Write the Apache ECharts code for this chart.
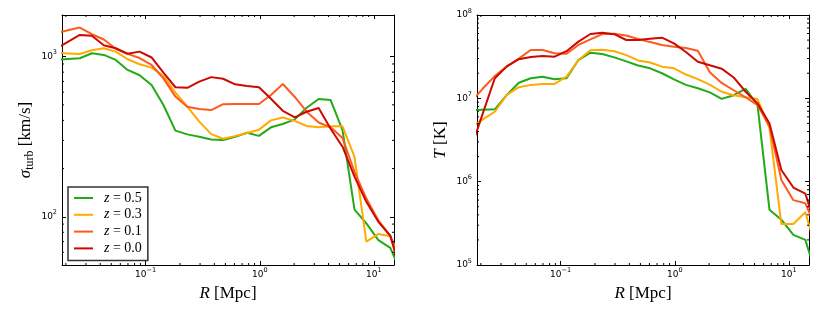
<!DOCTYPE html>
<html>
<head>
<meta charset="utf-8">
<script src="https://cdn.jsdelivr.net/npm/echarts@6/dist/echarts.min.js"></script>
<style>
html,body{margin:0;padding:0;background:#fff;}
#c{width:830px;height:312px;}
</style>
</head>
<body>
<div id="c"></div>
<script>
// Radial bins R [Mpc]
const R = [0.0164, 0.0208, 0.0265, 0.0338, 0.0430, 0.0547, 0.0695, 0.0885, 0.1127, 0.1432,
           0.1824, 0.2317, 0.2951, 0.3758, 0.4775, 0.6081, 0.7727, 0.984, 1.253, 1.592,
           2.028, 2.576, 3.281, 4.178, 5.309, 6.761, 8.59, 10.94, 13.93, 17.70];

// sigma_turb [km/s]
const sig_z05 = [955, 968, 977, 1050, 1025, 954, 826, 765, 666, 499, 345, 327, 316, 304, 302, 316, 335, 320, 362, 380, 406, 480, 544, 536, 348, 111, 91, 71.5, 64, 43];
const sig_z03 = [1055, 1048, 1040, 1096, 1128, 1075, 963, 896, 854, 758, 596, 487, 393, 328, 307, 319, 334, 350, 400, 417, 397, 369, 362, 367, 367, 237, 70, 78, 75.5, 52];
const sig_z01 = [1403, 1460, 1519, 1380, 1280, 1120, 1040, 980, 887, 732, 563, 487, 471, 464, 505, 506, 506, 506, 576, 675, 560, 453, 388, 362, 310, 191, 130, 95, 76, 48];
const sig_z00 = [1121, 1238, 1367, 1350, 1178, 1128, 1043, 1075, 988, 796, 644, 639, 698, 745, 728, 672, 656, 644, 546, 459, 418, 453, 478, 355, 274, 178, 124, 93, 76, 42];

// Temperature T [K]
const T_z05 = [7.2e6, 7.3e6, 7.38e6, 1.10e7, 1.54e7, 1.74e7, 1.82e7, 1.69e7, 1.74e7, 2.88e7, 3.53e7, 3.40e7, 3.10e7, 2.78e7, 2.48e7, 2.29e7, 2.0e7, 1.69e7, 1.45e7, 1.32e7, 1.18e7, 9.85e6, 1.09e7, 1.30e7, 8.3e6, 4.6e5, 3.5e5, 2.3e5, 2.0e5, 7e4];
const T_z03 = [4.46e6, 5.6e6, 6.9e6, 1.10e7, 1.36e7, 1.45e7, 1.49e7, 1.49e7, 1.82e7, 2.88e7, 3.77e7, 3.84e7, 3.68e7, 3.3e7, 2.85e7, 2.69e7, 2.40e7, 2.29e7, 1.93e7, 1.7e7, 1.46e7, 1.2e7, 1.09e7, 1.03e7, 9.8e6, 4.4e6, 3.1e5, 3.1e5, 4.3e5, 1.4e5];
const T_z01 = [9.1e6, 1.31e7, 1.85e7, 2.42e7, 3.0e7, 3.80e7, 3.80e7, 3.47e7, 3.43e7, 4.37e7, 5.1e7, 5.9e7, 5.95e7, 5.68e7, 5.15e7, 4.73e7, 4.37e7, 4.17e7, 4.02e7, 3.73e7, 2.06e7, 1.53e7, 1.25e7, 1.03e7, 8.3e6, 4.6e6, 1.05e6, 6.0e5, 5.5e5, 2.6e5];
const T_z00 = [2.5e6, 6.6e6, 1.74e7, 2.42e7, 2.95e7, 3.13e7, 3.23e7, 3.16e7, 3.68e7, 4.79e7, 5.92e7, 6.14e7, 5.89e7, 5.01e7, 5.01e7, 5.2e7, 5.35e7, 4.57e7, 3.6e7, 2.75e7, 2.49e7, 2.27e7, 1.78e7, 1.2e7, 8.7e6, 5.0e6, 1.38e6, 8.5e5, 7.2e5, 2.5e5];

const seriesNames = ['z = 0.5', 'z = 0.3', 'z = 0.1', 'z = 0.0'];
const seriesColors = ['#22aa17', '#ffaa00', '#ff5a1e', '#cc0a00'];

// axis ranges
const xRange = [0.0185, 15];
const sigRange = [50, 1820];
const TRange = [1e5, 1e8];

// minor tick positions (2..9 x decade)
const mult = [2, 3, 4, 5, 6, 7, 8, 9];
const xDecades = [0.01, 0.1, 1, 10];
const sigDecades = [10, 100, 1000];
const TDecades = [1e5, 1e6, 1e7];
function minorTicks(decades, range) {
  const out = [];
  decades.forEach(d => mult.forEach(m => { const v = m * d; if (v > range[0] * 1.0001 && v < range[1] * 0.9999) out.push(v); }));
  return out;
}
const xMinor = minorTicks(xDecades, xRange);
const sigMinor = minorTicks(sigDecades, sigRange);
const TMinor = minorTicks(TDecades, TRange);

const SERIF = 'Liberation Serif';
const SANS = 'DejaVu Sans';

function powLabel(v) {
  const e = Math.log10(v);
  const r = Math.round(e);
  if (Math.abs(e - r) > 1e-6) return '';
  return '{b|10}{s|' + (r < 0 ? '\u2212' + (-r) : r) + '}';
}
const labelRich = {
  b: { fontFamily: SANS, fontSize: 9, color: '#000', padding: [3, 0, 3, 0], verticalAlign: 'middle' },
  s: { fontFamily: SANS, fontSize: 6.5, color: '#000', verticalAlign: 'top' }
};
const nameRich = {
  i: { fontFamily: SERIF, fontStyle: 'italic', fontSize: 17, color: '#000', lineHeight: 20 },
  r: { fontFamily: SERIF, fontSize: 17, color: '#000', lineHeight: 20 },
  sub: { fontFamily: SERIF, fontSize: 12, color: '#000', lineHeight: 12, verticalAlign: 'bottom' }
};

function mkX(grid, pos, withLabel, name) {
  return {
    type: 'log', logBase: 10, gridIndex: grid, position: pos,
    min: xRange[0], max: xRange[1],
    axisLine: { show: true, onZero: false, lineStyle: { color: '#000', width: 1 } },
    axisTick: { show: true, inside: true, length: 4, lineStyle: { color: '#000', width: 1 } },
    axisLabel: { show: withLabel, formatter: powLabel, rich: labelRich, margin: 2 },
    splitLine: { show: false },
    name: name || '', nameLocation: 'middle', nameGap: 19,
    nameTextStyle: { rich: nameRich }
  };
}
function mkY(grid, pos, range, withLabel, name) {
  return {
    type: 'log', logBase: 10, gridIndex: grid, position: pos,
    min: range[0], max: range[1],
    axisLine: { show: true, onZero: false, lineStyle: { color: '#000', width: 1 } },
    axisTick: { show: true, inside: true, length: 4, lineStyle: { color: '#000', width: 1 } },
    axisLabel: { show: withLabel, formatter: powLabel, rich: labelRich, margin: 5 },
    splitLine: { show: false },
    name: name || '', nameLocation: 'middle', nameGap: 26, nameRotate: 90,
    nameTextStyle: { rich: nameRich }
  };
}

function lineSeries(idx, xi, yi, vals) {
  return {
    type: 'line', name: seriesNames[idx], xAxisIndex: xi, yAxisIndex: yi,
    data: R.map((r, i) => [r, vals[i]]),
    symbol: 'none', showSymbol: false, smooth: false, clip: true,
    lineStyle: { color: seriesColors[idx], width: 2 },
    itemStyle: { color: seriesColors[idx] },
    z: 3 + idx, animation: false
  };
}

function minorTickSeries(xi, yi, vals, dir, xr, yr) {
  return {
    type: 'custom', xAxisIndex: xi, yAxisIndex: yi, silent: true, clip: false, z: 10,
    data: vals.map(v => [v]),
    renderItem: function (params, api) {
      const v = api.value(0);
      const L = 2;
      const st = { stroke: '#000', lineWidth: 1 };
      if (dir === 'x') {
        const a = api.coord([v, yr[0]]);
        const b = api.coord([v, yr[1]]);
        return { type: 'group', children: [
          { type: 'line', shape: { x1: a[0], y1: a[1], x2: a[0], y2: a[1] - L }, style: st },
          { type: 'line', shape: { x1: b[0], y1: b[1], x2: b[0], y2: b[1] + L }, style: st }
        ] };
      } else {
        const a = api.coord([xr[0], v]);
        const b = api.coord([xr[1], v]);
        return { type: 'group', children: [
          { type: 'line', shape: { x1: a[0], y1: a[1], x2: a[0] + L, y2: a[1] }, style: st },
          { type: 'line', shape: { x1: b[0], y1: b[1], x2: b[0] - L, y2: b[1] }, style: st }
        ] };
      }
    }
  };
}

const chart = echarts.init(document.getElementById('c'), null, { renderer: 'canvas' });
const option = {
  animation: false,
  backgroundColor: '#fff',
  grid: [
    { left: 62, top: 15, width: 332, height: 250 },
    { left: 477, top: 15, width: 332, height: 250 }
  ],
  xAxis: [
    mkX(0, 'bottom', true, '{i|R}{r| [Mpc]}'),
    mkX(0, 'top', false),
    mkX(1, 'bottom', true, '{i|R}{r| [Mpc]}'),
    mkX(1, 'top', false)
  ],
  yAxis: [
    mkY(0, 'left', sigRange, true, '{i|\u03c3}{sub|turb}{r| [km/s]}'),
    mkY(0, 'right', sigRange, false),
    mkY(1, 'left', TRange, true, '{i|T}{r| [K]}'),
    mkY(1, 'right', TRange, false)
  ],
  legend: {
    data: seriesNames.map((n, i) => ({ name: n, icon: 'rect', itemStyle: { color: seriesColors[i] } })),
    orient: 'vertical', left: 68, top: 187,
    itemWidth: 19, itemHeight: 2, itemGap: 2.8,
    padding: [4, 6, 5, 6],
    borderColor: '#333', borderWidth: 1.5, backgroundColor: '#fff',
    formatter: function (n) { return '{i|z}{r| = ' + n.split('= ')[1] + '}'; },
    textStyle: {
      rich: {
        i: { fontFamily: SERIF, fontStyle: 'italic', fontSize: 14, color: '#000', padding: [0, 0, 0, 6], lineHeight: 15 },
        r: { fontFamily: SERIF, fontSize: 14, color: '#000', lineHeight: 15 }
      }
    },
    selectedMode: false
  },
  series: [
    lineSeries(0, 0, 0, sig_z05),
    lineSeries(1, 0, 0, sig_z03),
    lineSeries(2, 0, 0, sig_z01),
    lineSeries(3, 0, 0, sig_z00),
    lineSeries(0, 2, 2, T_z05),
    lineSeries(1, 2, 2, T_z03),
    lineSeries(2, 2, 2, T_z01),
    lineSeries(3, 2, 2, T_z00),
    minorTickSeries(0, 0, xMinor, 'x', xRange, sigRange),
    minorTickSeries(0, 0, sigMinor, 'y', xRange, sigRange),
    minorTickSeries(2, 2, xMinor, 'x', xRange, TRange),
    minorTickSeries(2, 2, TMinor, 'y', xRange, TRange)
  ]
};
chart.setOption(option);
</script>
</body>
</html>
